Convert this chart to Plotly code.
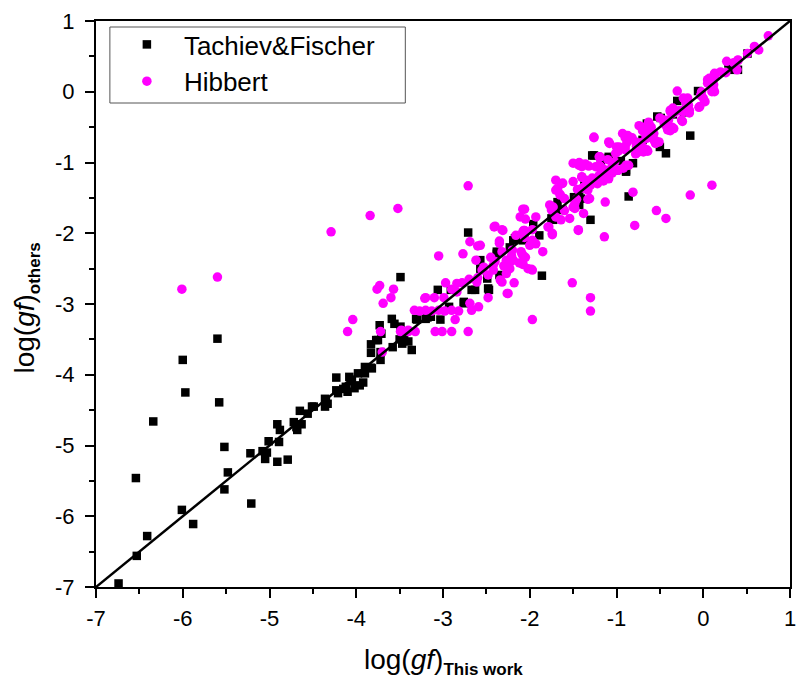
import plotly.graph_objects as go

# Tachiev & Fischer : (log gf this work, log gf others)
tf_x = [-6.74,-6.53,-6.41,-6.54,-6.34,-6.01,-5.88,-6.00,-5.97,-5.60,-5.58,-5.52,-5.48,-5.52,-5.21,-5.22,-5.05,-5.03,-5.08,-5.01,
        -4.89,-4.91,-4.91,-4.88,-4.79,-4.72,-4.69,-4.63,-4.68,-4.65,-4.56,-4.49,-4.51,-4.36,-4.35,-4.36,-4.33,-4.23,-4.23,-4.21,
        -4.15,-4.12,-4.10,-4.08,-4.05,-4.02,-3.98,-3.96,-3.92,-3.90,-3.90,-3.83,-3.82,-3.83,-3.77,-3.83,-3.72,-3.72,-3.71,-3.75,
        -3.73,-3.59,-3.56,-3.58,-3.49,-3.47,-3.45,-3.40,-3.36,-3.31,-3.49,-3.50,-3.45,-3.30,-3.20,-3.14,-3.18,-3.06,-3.03,-2.91,
        -2.76,-2.71,-2.67,-2.48,-2.47,-2.35,-2.38,-2.38,-2.57,-2.57,-2.23,-2.17,-2.19,-2.10,-2.08,-2.06,-1.96,-1.89,-1.86,-1.75,
        -1.73,-1.64,-1.62,-1.68,-1.49,-1.43,-1.43,-1.41,-1.37,-1.30,-1.28,-1.26,-1.18,-1.09,-1.09,-1.01,-0.89,-0.89,-0.86,-0.81,
        -0.65,-0.59,-0.53,-0.50,-0.49,-0.43,-0.30,-0.22,-0.19,-0.15,-0.06,0.29,0.32,0.40,0.51,
        -2.93,-2.76,-2.63,-2.49,-0.95,-0.70,-0.35]
tf_y = [-6.95,-6.56,-6.28,-5.46,-4.66,-5.91,-6.11,-3.79,-4.25,-3.49,-4.39,-5.02,-5.38,-5.62,-5.82,-5.11,-5.19,-5.10,-5.08,-4.94,
        -4.95,-5.23,-4.70,-4.78,-5.20,-4.67,-4.74,-4.70,-4.78,-4.51,-4.55,-4.45,-4.45,-4.34,-4.36,-4.45,-4.41,-4.04,-4.22,-4.26,
        -4.20,-4.17,-4.24,-4.03,-4.09,-4.19,-3.98,-4.15,-4.11,-3.89,-3.98,-3.90,-3.91,-3.57,-3.51,-3.69,-3.79,-3.68,-3.42,-3.51,
        -3.30,-3.21,-3.28,-3.61,-3.32,-3.56,-3.47,-3.53,-3.65,-3.21,-2.62,-3.50,-3.46,-3.22,-3.21,-3.18,-3.19,-2.80,-3.22,-2.80,
        -2.99,-1.99,-2.80,-2.78,-2.80,-2.59,-2.26,-2.29,-2.38,-2.50,-2.20,-2.07,-2.10,-2.05,-2.10,-2.09,-1.87,-2.03,-2.60,-1.79,
        -1.81,-1.67,-1.67,-1.56,-1.49,-1.60,-1.44,-1.51,-1.30,-1.81,-0.90,-0.90,-0.99,-0.92,-0.94,-1.11,-1.13,-1.11,-1.48,-1.01,
        -0.45,-0.64,-0.35,-0.78,-0.37,-0.87,-0.13,-0.29,-0.16,-0.62,0.01,0.40,0.31,0.31,0.54,
        -3.04,-2.97,-2.80,-2.64,-0.98,-0.68,-0.32]

# Hibbert : (log gf this work, log gf others)
hb_x = [-6.01,-5.60,-4.29,-3.84,-3.52,-3.76,-3.73,-3.57,-3.60,-3.69,-4.04,-4.10,-3.72,-3.70,-3.33,-3.49,-3.40,-3.32,
        -2.71,-3.05,-2.77,-2.69,-2.60,-2.62,-2.97,-2.84,-2.78,-3.20,-3.10,-2.99,-3.27,-3.13,-2.98,-2.82,-3.09,-3.01,-2.90,-2.71,
        -2.86,-2.67,-2.48,-2.25,-2.18,-2.34,-2.48,-2.60,-1.97,-1.97,-1.85,-2.08,-2.08,-2.23,-2.30,-2.41,-2.31,-2.35,-2.16,-2.07,
        -2.00,-1.93,-2.08,-2.11,-2.05,-1.74,-1.78,-1.51,-1.44,-1.30,-1.30,-1.14,-0.79,-0.54,-0.43,-0.15,0.10,-0.81,-1.13,-1.38,
        -1.54,-1.33,-1.70,-1.63,-1.68,-1.65,-1.50,-1.50,-1.44,-1.32,-1.26,-1.20,-1.08,-0.97,-0.90,-0.88,-0.90,-0.70,-0.66,-0.62,
        -0.66,-0.72,-0.30,-0.18,-0.16,-0.24,-0.05,0.02,0.10,0.12,0.05,0.13,0.27,0.39,0.40,0.51,0.59,0.64,0.75,-0.38,
        -0.41,-0.39,-0.57,-0.55,-0.69,-0.65,-0.78,-0.76,-0.86,-1.01,-1.05,-1.12,-1.20,-1.28,-1.35,-1.40,-1.18,-1.39,-1.33,-1.46,
        -1.48,-1.50,-1.60,-1.70,-1.73,-2.40,-2.32,-2.08,-2.35,-2.32,-2.27,-2.22,-2.09,-2.08,-2.53,-2.42,-2.27,-2.32,-2.26,-2.70,
        -2.61,-3.21,-2.90,-2.84,-2.69,-3.20,-3.05,-2.90,-3.48,-3.40,-2.59,-1.43,-1.62,-1.68,-1.30,-1.20,-1.15,-1.10,-1.44,-1.64,
        -1.48,-1.70,-1.65,-1.60,-1.77,-1.75,-2.06,-2.06,-2.06,-1.97,-1.79,-1.74,-1.97,-1.93,-2.20,-2.21,-2.19,-2.10,-2.05,-2.12,
        -2.02,-2.45,-2.42,-2.40,-2.57,-2.27,-2.23,-2.55,-1.98,-0.23,-0.20,-0.17,-0.23,-0.17,-0.38,-0.34,-0.50,-0.45,-0.43,-0.42,
        -0.38,-0.34,-0.63,-0.60,-0.57,-0.74,-0.70,-0.66,-0.64,-0.58,-0.54,-0.51,-0.93,-0.87,-0.82,-0.78,-0.77,-0.70,-0.64,-1.09,
        -1.26,-1.00,-0.98,-0.90,-1.19,-1.10,-1.02,-1.05,-0.98,-0.92,-1.24,-1.12,-1.18,-0.89,-1.43,-1.40,-1.36,-1.40,-1.33,-1.22,
        -1.28,-1.15,-1.09,-1.38,-1.45,-1.31,0.35,0.40,0.26,0.20,0.13,0.05,0.07,0.10,0.12,0.13,-0.03,0.00,-0.02,-0.04,
        -0.35,-0.28,-0.22,-0.16,-0.40,-0.45,-0.36,-0.25]
hb_y = [-2.79,-2.62,-1.98,-1.75,-1.65,-2.79,-2.74,-2.79,-2.91,-2.99,-3.22,-3.39,-3.39,-3.68,-3.09,-3.39,-3.39,-3.39,
        -1.33,-2.32,-2.29,-2.12,-2.18,-2.38,-2.70,-2.71,-2.70,-2.91,-2.91,-2.91,-3.10,-3.10,-3.10,-3.10,-3.39,-3.39,-3.39,-3.39,
        -3.22,-3.09,-2.91,-2.85,-2.70,-2.66,-2.59,-2.63,-3.22,-2.52,-2.26,-2.44,-2.31,-2.38,-2.46,-1.91,-1.96,-2.11,-2.03,-1.96,
        -2.17,-1.77,-1.66,-1.77,-1.80,-2.02,-1.91,-2.70,-1.96,-2.91,-3.10,-2.05,-1.89,-1.68,-1.79,-1.46,-1.32,-1.42,-1.56,-1.72,
        -1.79,-1.52,-1.25,-1.30,-1.39,-1.46,-1.27,-1.01,-1.03,-1.05,-0.65,-0.92,-0.73,-0.78,-0.65,-0.72,-0.78,-0.50,-0.56,-0.48,
        -0.66,-0.72,0.01,-0.09,-0.26,-0.42,-0.22,-0.14,0.00,0.03,0.17,0.21,0.43,0.31,0.45,0.54,0.64,0.59,0.79,-0.28,
        -0.54,-0.52,-0.68,-0.73,-0.85,-0.82,-0.88,-0.86,-1.04,-0.87,-1.15,-1.20,-1.18,-1.22,-1.25,-1.20,-1.06,-1.36,-1.39,-1.52,
        -1.58,-1.63,-1.68,-1.77,-1.63,-1.90,-1.95,-1.98,-2.14,-2.26,-2.38,-2.40,-2.29,-2.43,-2.48,-2.52,-2.57,-2.69,-2.85,-2.65,
        -2.69,-2.92,-2.79,-2.83,-2.99,-3.09,-3.09,-3.09,-3.37,-3.37,-3.04,-1.04,-1.29,-1.37,-1.32,-1.04,-1.10,-1.15,-1.95,-1.81,
        -1.65,-1.39,-1.45,-1.51,-1.60,-1.67,-1.66,-1.96,-2.06,-1.95,-1.91,-2.00,-2.10,-2.15,-2.24,-2.32,-2.38,-2.26,-2.34,-2.42,
        -2.50,-2.34,-2.45,-2.40,-2.17,-2.45,-2.50,-2.52,-2.51,-0.09,-0.14,-0.19,-0.28,-0.28,-0.26,-0.30,-0.37,-0.40,-0.45,-0.50,
        -0.55,-0.52,-0.43,-0.50,-0.59,-0.48,-0.55,-0.62,-0.65,-0.64,-0.70,-0.71,-0.59,-0.62,-0.65,-0.71,-0.77,-0.78,-0.84,-0.71,
        -0.64,-0.78,-0.84,-0.82,-0.92,-0.96,-0.99,-1.06,-1.11,-1.08,-1.06,-1.11,-1.08,-1.04,-1.00,-1.06,-1.02,-1.21,-1.26,-1.30,
        -1.25,-1.26,-1.23,-1.35,-1.38,-1.51,0.41,0.44,0.27,0.28,0.26,0.12,0.19,0.05,0.10,0.00,-0.05,-0.09,0.00,-0.21,
        -0.23,-0.27,-0.25,-0.30,-0.40,-0.45,-0.50,-0.40]

# y = x reference line end points
diag = [-7, 1]

# tick values / labels (plain hyphen minus as in the original)
tick_vals = [-7, -6, -5, -4, -3, -2, -1, 0, 1]
tick_text = ["-7", "-6", "-5", "-4", "-3", "-2", "-1", "0", "1"]

FONT = "Arial, Liberation Sans, sans-serif"

fig = go.Figure()
fig.add_trace(go.Scatter(x=tf_x, y=tf_y, mode="markers", name="Tachiev&Fischer",
                         marker=dict(symbol="square", size=8.5, color="black")))
fig.add_trace(go.Scatter(x=hb_x, y=hb_y, mode="markers", name="Hibbert",
                         marker=dict(symbol="circle", size=9.5, color="#FF00FF")))
fig.add_trace(go.Scatter(x=diag, y=diag, mode="lines", showlegend=False,
                         line=dict(color="black", width=2.5)))

axis_common = dict(
    showline=True, linecolor="black", linewidth=2, mirror=True,
    ticks="outside", ticklen=9, tickwidth=2, tickcolor="black",
    showgrid=False, zeroline=False,
    tickfont=dict(family=FONT, size=22, color="black"),
    tickmode="array", tickvals=tick_vals, ticktext=tick_text,
    minor=dict(ticks="outside", ticklen=5, tickwidth=2, tickcolor="black",
               tickmode="linear", tick0=-7, dtick=0.5),
    ticklabeloverflow="allow",
)

fig.update_xaxes(range=[-7, 1], ticklabelstandoff=2, **axis_common)
fig.update_yaxes(range=[-7, 1], ticklabelstandoff=6, **axis_common)

fig.add_annotation(
    text="log(<i>gf</i>)<sub><b><span style='font-size:17px'>This work</span></b></sub>",
    xref="paper", yref="paper", x=0.5, y=-0.098, xanchor="center", yanchor="top",
    showarrow=False, font=dict(family=FONT, size=28, color="black"))
fig.add_annotation(
    text="log(<i>gf</i>)<sub><b><span style='font-size:17px'>others</span></b></sub>",
    xref="paper", yref="paper", x=-0.1, y=0.493, xanchor="center", yanchor="middle",
    textangle=-90, showarrow=False, font=dict(family=FONT, size=28, color="black"))

# legend frame
fig.add_shape(type="rect", xref="paper", yref="paper",
              x0=14 / 700, x1=312 / 700, y0=1 - 82 / 566, y1=1 - 6 / 566,
              line=dict(color="#555555", width=1), fillcolor="white", layer="above")

fig.update_layout(
    width=797, height=685,
    margin=dict(l=96, r=1, t=21, b=98),
    paper_bgcolor="white", plot_bgcolor="white",
    font=dict(family=FONT, color="black"),
    legend=dict(x=0.02, y=1.0, xanchor="left", yanchor="top",
                bgcolor="rgba(0,0,0,0)", borderwidth=0,
                font=dict(family=FONT, size=26, color="black"),
                itemwidth=64, tracegroupgap=0),
)

fig.write_html("out.html")
